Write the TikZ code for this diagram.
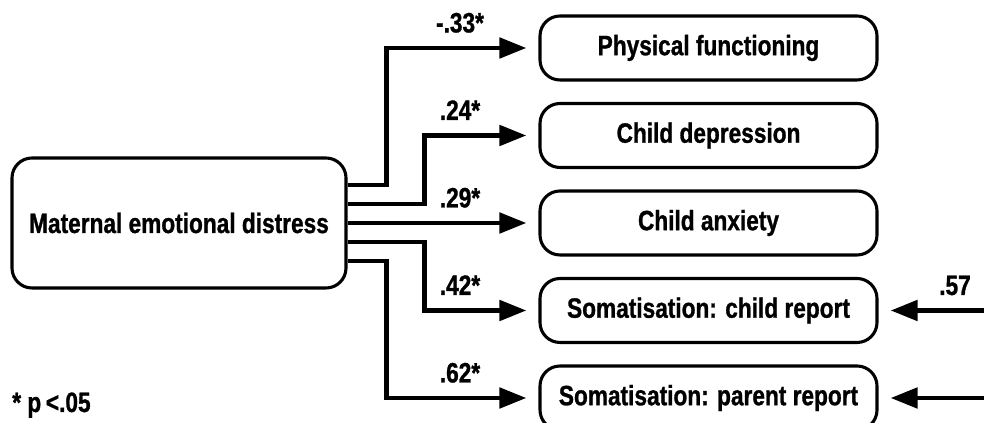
\documentclass[tikz,border=0pt]{standalone}
\usepackage{fontspec}
\setmainfont{Liberation Sans}[FakeStretch=0.81, FakeBold=1]
\usetikzlibrary{arrows.meta}

\begin{document}
\begin{tikzpicture}[
    font=\fontsize{19.9}{22}\selectfont\bfseries,
    source/.style={draw, line width=2.2pt, rounded corners=0.5cm, minimum width=8.35cm, minimum height=3.25cm},
    outcome/.style={draw, line width=2.2pt, rounded corners=0.5cm, minimum width=8.425cm, minimum height=1.6cm},
    link/.style={line width=3.5pt, -{Triangle[length=0.675cm,width=0.5cm]}, shorten >=0.3cm},
    coef/.style={anchor=base, inner sep=0pt}
  ]
  \useasboundingbox (0,0) rectangle (24.6,10.575);

  \node[source] (distress) at (4.475, 5) {Maternal emotional distress};

  \node[outcome] (pf) at (17.7125, 9.375) {Physical functioning};
  \node[outcome] (dep) at (17.7125, 7.1875) {Child depression};
  \node[outcome] (anx) at (17.7125, 5) {Child anxiety};
  \node[outcome] (somc) at (17.7125, 2.8125) {Somatisation: child report};
  \node[outcome] (somp) at (17.7125, 0.625) {Somatisation: parent report};

  \draw[link] ([yshift=0.95cm]distress.east) -- ++(0.975,0) |- (pf.west);
  \draw[link] ([yshift=0.475cm]distress.east) -- ++(1.925,0) |- (dep.west);
  \draw[link] (distress.east) -- (anx.west);
  \draw[link] ([yshift=-0.475cm]distress.east) -- ++(1.925,0) |- (somc.west);
  \draw[link] ([yshift=-0.95cm]distress.east) -- ++(0.975,0) |- (somp.west);

  \coordinate (inc) at (24.8, 2.8125);
  \coordinate (inp) at (24.8, 0.625);
  \draw[link] (inc) -- (somc.east);
  \draw[link] (inp) -- (somp.east);

  \node[coef] (c33) at (11.5, 9.765) {-.33*};
  \node[coef] (c24) at (11.5, 7.578) {.24*};
  \node[coef] (c29) at (11.5, 5.39) {.29*};
  \node[coef] (c42) at (11.5, 3.203) {.42*};
  \node[coef] (c62) at (11.5, 1.015) {.62*};
  \node[coef] (c57) at (23.875, 3.2) {.57};

  \node[coef, anchor=base west] (sig) at (0.3, 0.275) {* p\,<.05};
\end{tikzpicture}
\end{document}
